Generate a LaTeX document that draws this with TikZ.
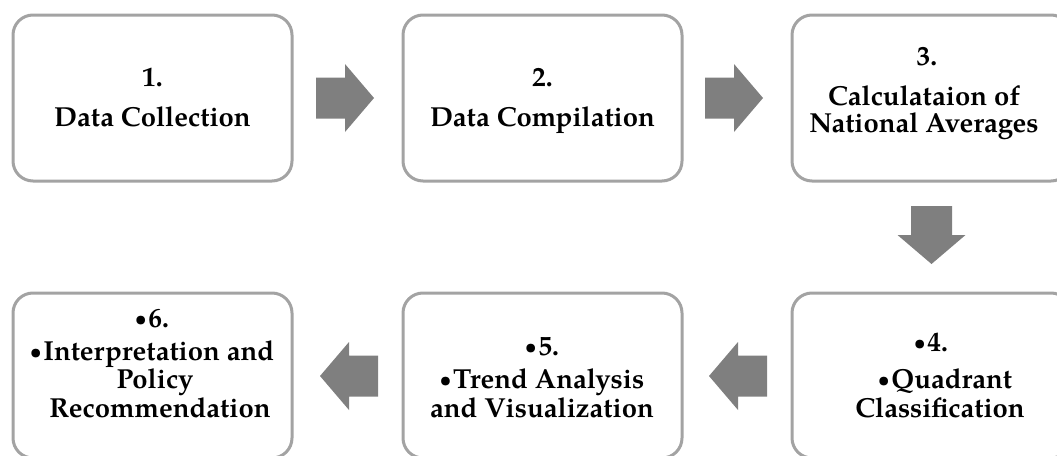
\documentclass[tikz,border=0pt]{standalone}
\usepackage{fontspec}
\usepackage{graphicx}
\setmainfont{texgyrepagella}[Extension=.otf, UprightFont=*-regular, BoldFont=*-bold, ItalicFont=*-italic, BoldItalicFont=*-bolditalic]
\usetikzlibrary{calc}
\definecolor{boxgray}{HTML}{A3A3A3}
\definecolor{arrowgray}{HTML}{7F7F7F}
\newcommand{\stepbul}{\raisebox{0.12ex}{\scalebox{0.72}{•}}\hspace{0.06em}}
\begin{document}
\begin{tikzpicture}[x=1pt,y=-1pt,
  stepbox/.style={draw=boxgray, line width=3pt, rounded corners=20pt,
    minimum width=279pt, minimum height=166pt, inner sep=0pt, outer sep=0pt, fill=white},
  lbl/.style={font=\fontsize{27.5}{28}\selectfont\bfseries, anchor=base, inner sep=0pt},
  flowarrow/.pic={\fill[arrowgray] (0,-20.5) -- (29,-20.5) -- (29,-34) -- (58,0)
    -- (29,34) -- (29,20.5) -- (0,20.5) -- cycle;}
  ]
\useasboundingbox (0,0) rectangle (1057,455);
\clip (0,0) rectangle (1057,455);
% boxes
\node[stepbox] (b1) at (152.5,98) {};
\node[stepbox] (b2) at (542.5,98) {};
\node[stepbox] (b3) at (931.5,98) {};
\node[stepbox, minimum height=165pt] (b4) at (931.5,375.5) {};
\node[stepbox, minimum height=165pt] (b5) at (542.5,375.5) {};
\node[stepbox, minimum height=165pt] (b6) at (152.5,375.5) {};
% arrows
\pic at ($(b1.east)+(24,0)$) {flowarrow};
\pic at ($(b2.east)+(23,0)$) {flowarrow};
\pic[rotate=-90] at ($(b3.south)+(0,25)$) {flowarrow};
\pic[rotate=180] at ($(b4.west)+(-25,0.5)$) {flowarrow};
\pic[rotate=180] at ($(b5.west)+(-25,0.5)$) {flowarrow};
% texts
\node[lbl] (t1a) at (152.5,86) {1.};
\node[lbl] (t1b) at (152.5,126) {Data Collection};
\node[lbl] (t2a) at (542.5,86) {2.};
\node[lbl] (t2b) at (542.5,126) {Data Compilation};
\node[lbl] (t3a) at (927,65) {3.};
\node[lbl] (t3b) at (924,105) {Calculataion of};
\node[lbl] (t3c) at (924,132) {National Averages};
\node[lbl] (t4a) at (931,351) {\stepbul 4.};
\node[lbl] (t4b) at (945,388) {\stepbul Quadrant};
\node[lbl] (t4c) at (940,417) {Classification};
\node[lbl] (t5a) at (542,355) {\stepbul 5.};
\node[lbl] (t5b) at (542,388) {\stepbul Trend Analysis};
\node[lbl] (t5c) at (542,417) {and Visualization};
\node[lbl] (t6a) at (152,327) {\stepbul 6.};
\node[lbl] (t6b) at (152,360) {\stepbul Interpretation and};
\node[lbl] (t6c) at (155,388) {Policy};
\node[lbl] (t6d) at (160,417) {Recommendation};
\end{tikzpicture}
\end{document}
